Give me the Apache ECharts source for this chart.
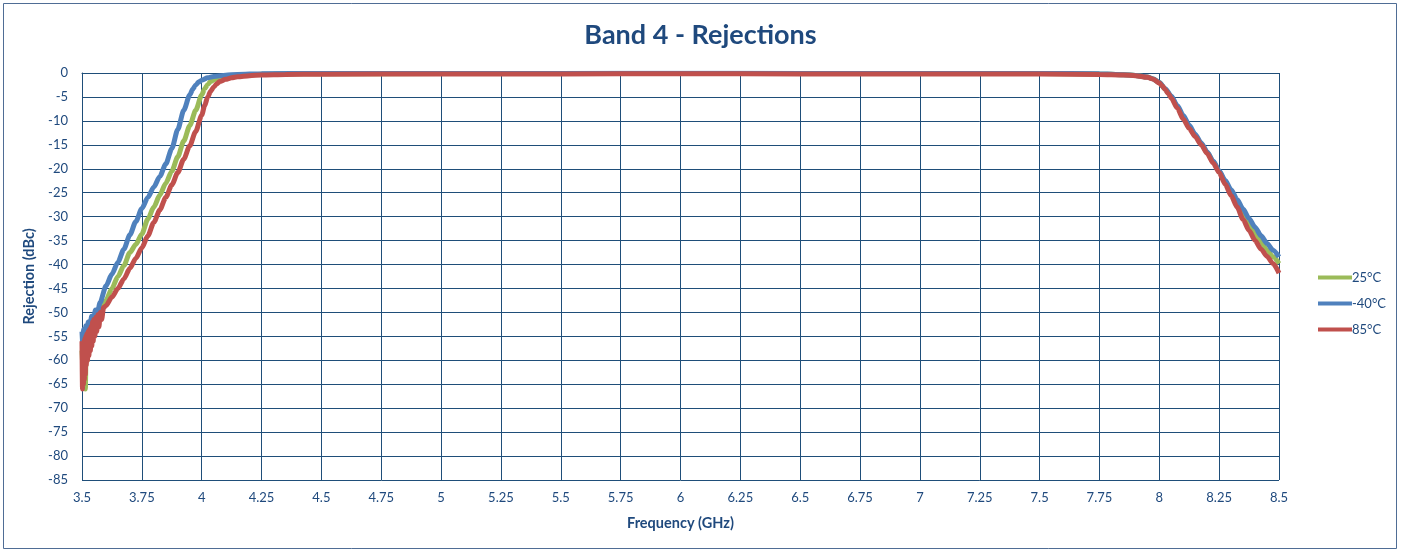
<!DOCTYPE html>
<html>
<head>
<meta charset="utf-8">
<script src="https://cdn.jsdelivr.net/npm/echarts@6/dist/echarts.min.js"></script>
<style>
html,body{margin:0;padding:0;background:#fff;}
#chart{width:1401px;height:552px;}
</style>
</head>
<body>
<div id="chart"></div>
<script>
// ---- data ----
const seriesNames = ['25°C', '-40°C', '85°C'];

const greenFreq = [3.5,3.505,3.51,3.514,3.517,3.522,3.528,3.535,3.545,3.56,3.575,3.6,3.625,3.65,3.675,3.7,3.725,3.75,3.775,3.8,3.825,3.85,3.875,3.9,3.925,3.95,3.975,4.0,4.0125,4.025,4.0375,4.05,4.075,4.1,4.15,4.2,4.3,4.5,5,5.5,6,6.5,7,7.5,7.75,7.85,7.9,7.95,7.975,8.0,8.025,8.05,8.075,8.1,8.125,8.15,8.175,8.2,8.225,8.25,8.275,8.3,8.325,8.35,8.375,8.4,8.425,8.45,8.475,8.5];
const greenDb   = [-58,-62,-57,-66,-58,-60,-55,-56,-53,-51.5,-50,-47.5,-45,-42.5,-40.2,-37.5,-35.8,-33.6,-30.5,-28,-25.5,-23,-20.5,-17.5,-14.2,-11,-7.8,-4.6,-3.3,-2.4,-1.8,-1.45,-1.0,-0.75,-0.5,-0.35,-0.2,-0.15,-0.12,-0.12,-0.1,-0.12,-0.12,-0.12,-0.2,-0.35,-0.5,-0.85,-1.25,-2.0,-3.4,-5.0,-7.0,-9.2,-11.2,-13.0,-14.8,-16.6,-18.5,-20.5,-22.8,-25,-27.2,-29.4,-31.6,-33.6,-35.4,-37,-38.4,-39.8];

const blueFreq = [3.5,3.503,3.507,3.511,3.516,3.52,3.526,3.533,3.54,3.548,3.556,3.565,3.575,3.6,3.625,3.65,3.675,3.7,3.725,3.75,3.775,3.8,3.825,3.85,3.875,3.9,3.925,3.95,3.9625,3.975,3.9875,4.0,4.025,4.05,4.1,4.15,4.25,4.5,5,5.5,6,6.5,7,7.5,7.75,7.85,7.9,7.95,7.975,8.0,8.025,8.05,8.075,8.1,8.125,8.15,8.175,8.2,8.225,8.25,8.275,8.3,8.325,8.35,8.375,8.4,8.425,8.45,8.475,8.5];
const blueDb   = [-54,-56.5,-53.5,-55.5,-52.8,-54.5,-52,-53.2,-50.8,-51.8,-49.5,-50,-48,-44.5,-42,-39.5,-36.8,-33.8,-31,-28.3,-26,-23.8,-21.6,-19,-15.8,-11.8,-7.8,-4.6,-3.4,-2.5,-1.9,-1.5,-1.0,-0.75,-0.45,-0.3,-0.15,-0.08,-0.08,-0.08,-0.06,-0.08,-0.08,-0.08,-0.18,-0.35,-0.5,-0.85,-1.25,-2.0,-3.3,-4.8,-6.8,-8.8,-10.9,-12.8,-14.6,-16.5,-18.4,-20.4,-22.4,-24.4,-26.4,-28.4,-30.4,-32.2,-34,-35.6,-37,-38.4];

const redFreq = [3.5,3.502,3.504,3.506,3.508,3.51,3.512,3.514,3.516,3.518,3.52,3.523,3.526,3.529,3.532,3.535,3.538,3.541,3.544,3.547,3.55,3.554,3.558,3.562,3.566,3.571,3.576,3.582,3.59,3.6,3.625,3.65,3.675,3.7,3.725,3.75,3.775,3.8,3.825,3.85,3.875,3.9,3.925,3.95,3.975,4.0,4.0125,4.025,4.0375,4.05,4.0625,4.075,4.1,4.125,4.15,4.2,4.25,4.35,4.5,5,5.5,6,6.5,7,7.5,7.75,7.85,7.9,7.95,7.975,8.0,8.0125,8.025,8.0375,8.05,8.075,8.1,8.125,8.15,8.175,8.2,8.225,8.25,8.275,8.3,8.325,8.35,8.375,8.4,8.425,8.45,8.475,8.5];
const redDb   = [-56,-66,-57,-65,-56,-64,-55.5,-63,-55,-61,-54.5,-60,-54,-59,-53.5,-58,-53,-57,-52,-56,-51.5,-55,-51,-54,-50.5,-53,-50,-51.5,-49,-48.6,-46.8,-45,-43,-40.8,-38.7,-36.5,-34,-31.2,-28.6,-26,-23.4,-20.8,-18,-15.2,-12.2,-8.8,-6.8,-5,-3.8,-2.9,-2.3,-1.8,-1.3,-1.0,-0.8,-0.55,-0.4,-0.3,-0.25,-0.2,-0.2,-0.15,-0.2,-0.2,-0.2,-0.3,-0.4,-0.55,-0.9,-1.3,-2.1,-2.7,-3.5,-4.3,-5.2,-7.3,-9.6,-11.6,-13.3,-15,-16.8,-18.8,-20.8,-23.2,-25.6,-28,-30.6,-32.9,-35,-36.8,-38.3,-39.8,-41.8];

const xMin = 3.5, xMax = 8.5, xStep = 0.25;
const yMin = -85, yMax = 0, yStep = 5;

const colors = ['#9BBB59', '#4F81BD', '#C0504D'];
const zip = (a, b) => a.map((v, i) => [v, b[i]]);
const seriesData = [zip(greenFreq, greenDb), zip(blueFreq, blueDb), zip(redFreq, redDb)];

const textColor = '#1F497D';
const gridColor = '#1F4E79';
const font = 'Lato, "Open Sans", sans-serif';

const chart = echarts.init(document.getElementById('chart'), null, {renderer: 'canvas'});
chart.setOption({
  animation: false,
  backgroundColor: '#fff',
  textStyle: {fontFamily: font},
  graphic: [{
    type: 'rect', shape: {x: 3.5, y: 3.5, width: 1393, height: 545},
    style: {fill: 'none', stroke: '#4F6D95', lineWidth: 1}, silent: true
  }],
  title: {
    text: 'Band 4 - Rejections', left: 'center', top: 17,
    textStyle: {fontFamily: font, fontSize: 27, fontWeight: 'bold', color: textColor}
  },
  legend: {
    orient: 'vertical', left: 1313, top: 266, itemWidth: 34, itemHeight: 4, itemGap: 13,
    icon: 'rect', data: seriesNames,
    textStyle: {fontFamily: font, fontSize: 13, color: textColor, padding: [0, 0, 0, -5]}
  },
  grid: {left: 82, right: 122, top: 73, bottom: 72},
  xAxis: {
    type: 'value', min: xMin, max: xMax, interval: xStep,
    name: 'Frequency (GHz)', nameLocation: 'middle', nameGap: 36,
    nameTextStyle: {fontFamily: font, fontSize: 14.5, fontWeight: 'bold', color: textColor},
    axisLine: {show: true, lineStyle: {color: gridColor, width: 1}},
    axisTick: {show: false},
    axisLabel: {color: textColor, fontSize: 13, margin: 11, fontFamily: font},
    splitLine: {show: true, lineStyle: {color: gridColor, width: 1}}
  },
  yAxis: {
    type: 'value', min: yMin, max: yMax, interval: yStep,
    name: 'Rejection (dBc)', nameLocation: 'middle', nameGap: 36,
    nameTextStyle: {fontFamily: font, fontSize: 14.5, fontWeight: 'bold', color: textColor},
    axisLine: {show: true, onZero: false, lineStyle: {color: gridColor, width: 1}},
    axisTick: {show: false},
    axisLabel: {color: textColor, fontSize: 13, margin: 14, fontFamily: font},
    splitLine: {show: true, lineStyle: {color: gridColor, width: 1}}
  },
  series: seriesNames.map((n, i) => ({
    name: n, type: 'line', data: seriesData[i], showSymbol: false,
    smooth: 0.25, smoothMonotone: 'x',
    color: colors[i],
    lineStyle: {color: colors[i], width: 5}
  }))
});
</script>
</body>
</html>
